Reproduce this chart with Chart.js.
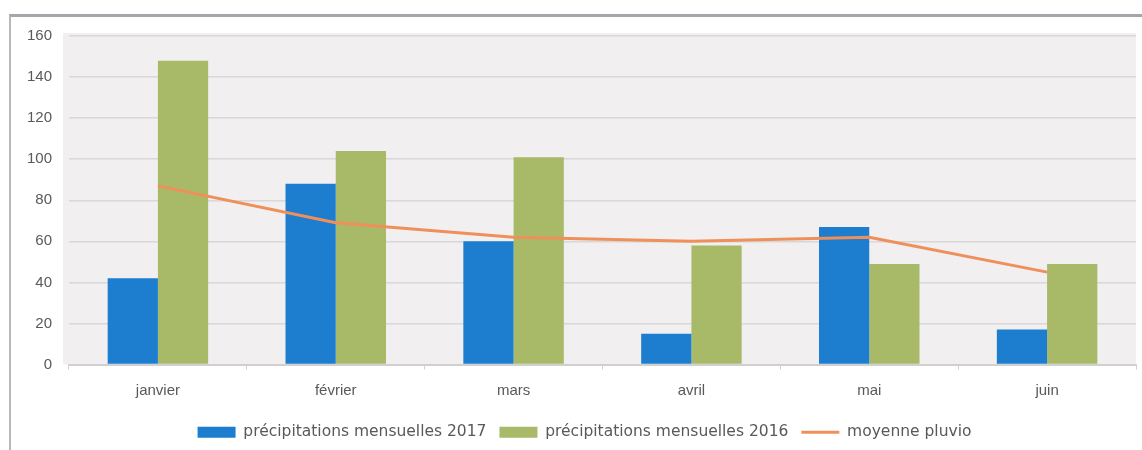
<!DOCTYPE html>
<html>
<head>
<meta charset="utf-8">
<script src="https://cdn.jsdelivr.net/npm/chart.js@4"></script>
<style>
    html, body { margin: 0; padding: 0; background: #fff; overflow: hidden; }
    #frame {
        position: absolute;
        left: 9px;
        top: 14px;
        width: 1131px;
        height: 434px;
        border-top: 3px solid #a3a7ab;
        border-left: 2px solid #b4b8bc;
    }
    #rainChart { display: block; }
</style>
</head>
<body>
<div id="frame"><canvas id="rainChart" width="1131" height="434"></canvas></div>
<script>
// Monthly rainfall data
const months = ['janvier', 'février', 'mars', 'avril', 'mai', 'juin'];
const rain2017 = [42, 88, 60, 15, 67, 17];
const rain2016 = [148, 104, 101, 58, 49, 49];
const averageRain = [87, 69, 62, 60, 62, 45];
const yTicks = [0, 20, 40, 60, 80, 100, 120, 140, 160];

// Fill the plot area with a light grey background
const plotBackground = {
    id: 'plotBackground',
    beforeDraw(chart) {
        const { ctx, chartArea } = chart;
        ctx.save();
        ctx.fillStyle = '#f1eff0';
        ctx.fillRect(chartArea.left - 6, chartArea.top - 3, chartArea.right - chartArea.left + 6, chartArea.bottom - chartArea.top + 3);
        ctx.restore();
    }
};

// The original legend sits a bit right of the canvas centre
const legendShift = {
    id: 'legendShift',
    afterLayout(chart) {
        if (chart.legend) chart.legend.left += 22;
    }
};

document.addEventListener('DOMContentLoaded', () => {
    const ctx = document.getElementById('rainChart');
    new Chart(ctx, {
        data: {
            labels: months,
            datasets: [
                {
                    type: 'line',
                    label: 'moyenne pluvio',
                    data: averageRain,
                    borderColor: '#ef905a',
                    backgroundColor: '#ef905a',
                    borderWidth: 3,
                    pointRadius: 0,
                    pointStyle: 'line',
                    tension: 0,
                    order: 0
                },
                {
                    type: 'bar',
                    label: 'précipitations mensuelles 2017',
                    data: rain2017,
                    backgroundColor: '#1d7dcf',
                    pointStyle: 'rect',
                    categoryPercentage: 0.565,
                    barPercentage: 1,
                    order: 1
                },
                {
                    type: 'bar',
                    label: 'précipitations mensuelles 2016',
                    data: rain2016,
                    backgroundColor: '#a8b968',
                    pointStyle: 'rect',
                    categoryPercentage: 0.565,
                    barPercentage: 1,
                    order: 2
                }
            ]
        },
        options: {
            responsive: false,
            animation: false,
            layout: {
                padding: { top: 15, right: 6, bottom: 1, left: 0 }
            },
            plugins: {
                legend: {
                    position: 'bottom',
                    labels: {
                        usePointStyle: true,
                        pointStyleWidth: 38,
                        boxHeight: 11,
                        padding: 13,
                        color: '#595959',
                        font: { family: 'DejaVu Sans', size: 15.5 },
                        sort: (a, b) => b.datasetIndex === 0 ? -1 : (a.datasetIndex === 0 ? 1 : a.datasetIndex - b.datasetIndex)
                    }
                },
                tooltip: { enabled: false }
            },
            scales: {
                x: {
                    grid: {
                        display: true,
                        drawOnChartArea: false,
                        tickLength: 5,
                        color: '#d0d0d0'
                    },
                    border: { color: '#d0d0d0', width: 2 },
                    ticks: {
                        color: '#595959',
                        padding: 12,
                        font: { family: 'Liberation Sans', size: 15 }
                    }
                },
                y: {
                    min: 0,
                    max: 160,
                    afterBuildTicks: (scale) => {
                        scale.ticks = yTicks.map(v => ({ value: v }));
                    },
                    afterFit: (scale) => {
                        scale.width = 58;
                        // tick padding would otherwise push the plot top down
                        scale.paddingTop = 19;
                    },
                    grid: {
                        color: '#d8d8d8',
                        lineWidth: 1.5,
                        drawTicks: false
                    },
                    border: { display: false },
                    ticks: {
                        color: '#595959',
                        padding: 17,
                        font: { family: 'Liberation Sans', size: 15 }
                    }
                }
            }
        },
        plugins: [plotBackground, legendShift]
    });
});
</script>
</body>
</html>
